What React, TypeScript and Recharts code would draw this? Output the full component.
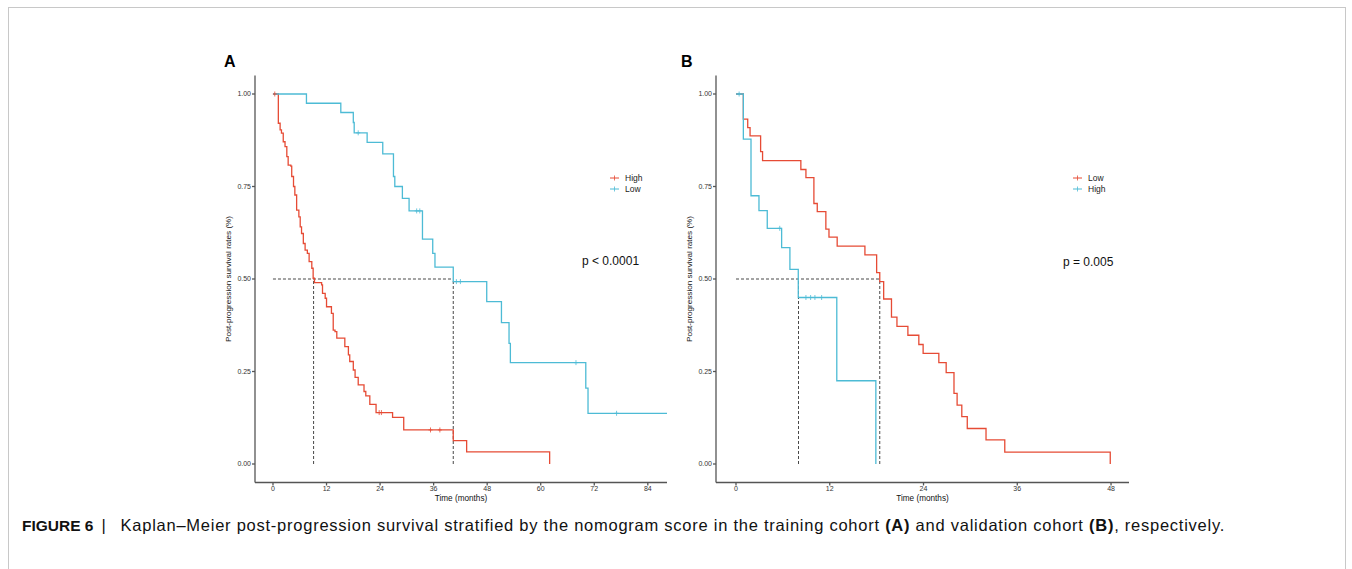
import React from "react"
import { ComposedChart, Line, Scatter, XAxis, YAxis, ReferenceLine } from "recharts"

// Panel A: training cohort
const highA_t = [0, 1.2, 1.6, 1.9, 2.3, 2.7, 3.1, 3.4, 4.0, 4.2, 4.6, 4.9, 5.3, 5.8, 6.1, 6.4, 6.8, 7.2, 7.7, 8.1, 8.7, 9.0, 9.3, 10.9, 11.1, 11.7, 12.0, 13.1, 13.5, 13.9, 14.3, 16.1, 16.9, 17.2, 18.0, 18.4, 19.1, 20.4, 20.8, 21.7, 23.1, 26.8, 29.3, 40.4, 43.4, 62.0]
const highA_s = [1, 0.921, 0.903, 0.894, 0.871, 0.858, 0.831, 0.808, 0.805, 0.777, 0.75, 0.727, 0.686, 0.668, 0.641, 0.623, 0.596, 0.578, 0.569, 0.547, 0.529, 0.502, 0.49, 0.484, 0.461, 0.448, 0.425, 0.407, 0.362, 0.358, 0.34, 0.317, 0.295, 0.277, 0.254, 0.234, 0.214, 0.196, 0.184, 0.161, 0.139, 0.126, 0.092, 0.063, 0.033, 0]
const lowA_t = [0, 7.5, 15.2, 18.0, 18.2, 21.1, 24.6, 27.0, 27.3, 29.0, 30.5, 33.5, 35.8, 36.3, 40.4, 47.9, 51.2, 52.9, 53.2, 70.1, 70.6, 88.3]
const lowA_s = [1, 0.975, 0.95, 0.923, 0.895, 0.869, 0.838, 0.777, 0.75, 0.718, 0.684, 0.608, 0.569, 0.532, 0.493, 0.439, 0.382, 0.326, 0.274, 0.205, 0.137, 0.137]
const highA_cens_t = [0.4, 23.8, 24.3, 35.3, 37.4]
const highA_cens_s = [1, 0.139, 0.139, 0.092, 0.092]
const lowA_cens_t = [19.1, 32.2, 32.9, 41.1, 42.0, 67.9, 77.0]
const lowA_cens_s = [0.895, 0.684, 0.684, 0.493, 0.493, 0.274, 0.137]
const medianA = [9.1, 40.4]
const ticksA = [0, 12, 24, 36, 48, 60, 72, 84]

// Panel B: validation cohort
const lowB_t = [0, 0.94, 1.5, 1.8, 3.15, 3.4, 8.3, 8.95, 9.97, 10.4, 11.5, 11.9, 12.95, 16.5, 18.0, 18.4, 18.9, 19.9, 20.6, 22.0, 23.4, 23.95, 25.96, 26.9, 27.9, 28.3, 28.9, 29.6, 32.0, 34.4, 47.9]
const lowB_s = [1, 0.932, 0.909, 0.887, 0.844, 0.82, 0.796, 0.774, 0.704, 0.682, 0.635, 0.613, 0.589, 0.565, 0.517, 0.493, 0.446, 0.397, 0.372, 0.348, 0.323, 0.299, 0.274, 0.247, 0.191, 0.159, 0.128, 0.096, 0.065, 0.032, 0]
const highB_t = [0, 0.94, 1.92, 2.94, 4.0, 5.84, 6.9, 7.97, 12.9, 17.9]
const highB_s = [1, 0.878, 0.725, 0.685, 0.637, 0.585, 0.526, 0.45, 0.225, 0]
const highB_cens_t = [0.4, 5.6, 8.95, 9.55, 10.1, 10.96]
const highB_cens_s = [1, 0.637, 0.45, 0.45, 0.45, 0.45]
const medianB = [8.0, 18.4]
const ticksB = [0, 12, 24, 36, 48]

const yTicks = [0, 0.25, 0.5, 0.75, 1]

const RED = "#E64B35"
const BLUE = "#4DBBD5"
const FONT = "'Liberation Sans', Arial, sans-serif"

const zip = (t: number[], s: number[]) => t.map((v, i) => ({ t: v, s: s[i] }))

const Cross = (props: any) => {
  const { cx, cy, fill } = props
  return (
    <g stroke={fill} strokeWidth={0.8}>
      <line x1={cx - 2} x2={cx + 2} y1={cy} y2={cy} />
      <line x1={cx} x2={cx} y1={cy - 2.5} y2={cy + 2.5} />
    </g>
  )
}

type Series = { name: string; color: string; t: number[]; s: number[]; ct?: number[]; cs?: number[] }

function KeyLegend({ left, top, series }: { left: number; top: number; series: Series[] }) {
  return (
    <div style={{ position: "absolute", left, top, fontSize: 8.5, color: "#222", lineHeight: "11px" }}>
      {series.map((d) => (
        <div key={d.name} style={{ display: "flex", alignItems: "center" }}>
          <svg width={15} height={8}>
            <line x1={0} x2={9} y1={4} y2={4} stroke={d.color} strokeWidth={1} />
            <line x1={4.5} x2={4.5} y1={1.5} y2={6.5} stroke={d.color} strokeWidth={0.8} />
          </svg>
          <span>{d.name}</span>
        </div>
      ))}
    </div>
  )
}

function Panel(props: {
  left: number
  width: number
  domain: [number, number]
  ticks: number[]
  series: Series[]
  medians: number[]
}) {
  const { left, width, domain, ticks, series, medians } = props
  const yLabel = ({ viewBox }: any) => {
    const cx = viewBox.x + 28.5
    const cy = viewBox.y + viewBox.height / 2
    return (
      <text
        x={cx}
        y={cy}
        transform={`rotate(-90 ${cx} ${cy})`}
        textAnchor="middle"
        dominantBaseline="central"
        fontSize={8.1}
        fill="#111"
        fontFamily={FONT}
      >
        Post-progression survival rates (%)
      </text>
    )
  }
  return (
    <div style={{ position: "absolute", left, top: 40 }}>
      <ComposedChart width={width} height={470} margin={{ top: 35.5, right: 13, bottom: 7.5, left: 0 }}>
        <XAxis
          type="number"
          dataKey="t"
          domain={domain}
          ticks={ticks}
          allowDataOverflow
          height={20}
          stroke="#555"
          strokeWidth={1.3}
          tickSize={3}
          tickMargin={1}
          tick={{ fontSize: 7, fill: "#333", fontFamily: FONT }}
          label={{ value: "Time (months)", position: "insideBottom", offset: 2, fontSize: 8.2, fill: "#111", fontFamily: FONT }}
        />
        <YAxis
          type="number"
          dataKey="s"
          domain={[-0.05, 1.05]}
          ticks={yTicks}
          width={55}
          stroke="#555"
          strokeWidth={1.3}
          tickSize={3}
          tickMargin={1}
          tick={{ fontSize: 7, fill: "#333", fontFamily: FONT }}
          tickFormatter={(v: number) => v.toFixed(2)}
          label={yLabel}
        />
        <ReferenceLine
          segment={[{ x: 0, y: 0.5 }, { x: medians[1], y: 0.5 }]}
          stroke="#333"
          strokeDasharray="3 2"
          strokeWidth={0.9}
        />
        {medians.map((m) => (
          <ReferenceLine
            key={m}
            segment={[{ x: m, y: 0 }, { x: m, y: 0.5 }]}
            stroke="#333"
            strokeDasharray="3 2"
            strokeWidth={0.9}
          />
        ))}
        {series.map((d) => (
          <Line
            key={d.name}
            data={zip(d.t, d.s)}
            dataKey="s"
            name={d.name}
            type="stepAfter"
            stroke={d.color}
            strokeWidth={1.3}
            dot={false}
            activeDot={false}
            isAnimationActive={false}
          />
        ))}
        {series.map((d) =>
          d.ct ? (
            <Scatter
              key={d.name + "c"}
              data={zip(d.ct, d.cs || [])}
              dataKey="s"
              fill={d.color}
              shape={<Cross />}
              legendType="none"
              isAnimationActive={false}
            />
          ) : null
        )}
      </ComposedChart>
    </div>
  )
}

const seriesA: Series[] = [
  { name: "High", color: RED, t: highA_t, s: highA_s, ct: highA_cens_t, cs: highA_cens_s },
  { name: "Low", color: BLUE, t: lowA_t, s: lowA_s, ct: lowA_cens_t, cs: lowA_cens_s },
]
const seriesB: Series[] = [
  { name: "Low", color: RED, t: lowB_t, s: lowB_s },
  { name: "High", color: BLUE, t: highB_t, s: highB_s, ct: highB_cens_t, cs: highB_cens_s },
]

export default function App() {
  return (
    <div
      style={{
        position: "absolute",
        left: 0,
        top: 0,
        width: 1352,
        height: 569,
        background: "#fff",
        fontFamily: FONT,
        overflow: "hidden",
      }}
    >
      <div
        style={{
          position: "absolute",
          left: 8,
          top: 7,
          width: 1336,
          height: 580,
          border: "1px solid #c8c8c8",
        }}
      />
      <div style={{ position: "absolute", left: 224, top: 53, fontSize: 16, fontWeight: "bold" }}>A</div>
      <div style={{ position: "absolute", left: 681, top: 53, fontSize: 16, fontWeight: "bold" }}>B</div>
      <Panel left={200} width={480} domain={[-4.03, 88.3]} ticks={ticksA} medians={medianA} series={seriesA} />
      <Panel left={661} width={481} domain={[-2.56, 50.3]} ticks={ticksB} medians={medianB} series={seriesB} />
      <KeyLegend left={610} top={172.5} series={seriesA} />
      <KeyLegend left={1073} top={172.5} series={seriesB} />
      <div style={{ position: "absolute", left: 582, top: 254, fontSize: 12, color: "#111" }}>p &lt; 0.0001</div>
      <div style={{ position: "absolute", left: 1063, top: 255, fontSize: 12, color: "#111" }}>p = 0.005</div>
      <div
        style={{
          position: "absolute",
          left: 22,
          top: 516,
          fontSize: 16.5,
          letterSpacing: 0.75,
          color: "#111",
          whiteSpace: "nowrap",
        }}
      >
        <b style={{ fontSize: 15.5, letterSpacing: 0 }}>FIGURE 6</b>
        <span style={{ margin: "0 14px 0 8px" }}>|</span>Kaplan–Meier post-progression survival stratified by the
        nomogram score in the training cohort <b>(A)</b> and validation cohort <b>(B)</b>, respectively.
      </div>
    </div>
  )
}
